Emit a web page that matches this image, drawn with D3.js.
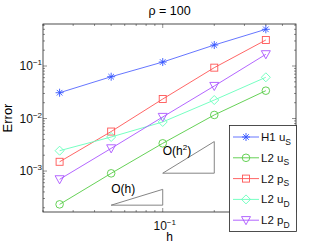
<!DOCTYPE html>
<html>
<head>
<meta charset="utf-8">
<script src="https://d3js.org/d3.v7.min.js"></script>
<style>
body { margin: 0; background: #fff; }
svg { display: block; font-family: "Liberation Sans", Arial, sans-serif; }
.tick-line { stroke: #444; stroke-width: 0.6; }
</style>
</head>
<body>
<script>

// mesh sizes and errors per norm
var hValues = [0.025, 0.05, 0.1, 0.2, 0.4];
var errH1uS = [0.031, 0.0625, 0.119, 0.251, 0.5];
var errL2uS = [0.000232, 0.000904, 0.00337, 0.0117, 0.0339];
var errL2pS = [0.0015, 0.00565, 0.0235, 0.093, 0.313];
var errL2uD = [0.00244, 0.00445, 0.0086, 0.0225, 0.061];
var errL2pD = [0.000695, 0.0027, 0.0107, 0.0416, 0.167];

var seriesNames = ["H1 u|S", "L2 u|S", "L2 p|S", "L2 u|D", "L2 p|D"];
var seriesColors = ["#5566ff", "#55cc44", "#ff5555", "#66ffbb", "#aa55ff"];
var seriesMarkers = ["star", "circle", "square", "diamond", "triangle"];

var xTickValues = [0.1];
var yTickValues = [1e-3, 1e-2, 1e-1];

// reference slopes: [h0, h1, base error, order, label]
var slopeTriangles = [
  [0.05, 0.1, 2.24e-4, 1, "O(h)"],
  [0.1, 0.2, 9.1e-4, 2, "O(h2)"]
];

var allErrors = [errH1uS, errL2uS, errL2pS, errL2uD, errL2pD];

var W = 327, H = 246;
var margin = {top: 24, right: 31, bottom: 34, left: 43};

var svg = d3.select("body").append("svg")
    .attr("width", W)
    .attr("height", H);

var x = d3.scaleLog()
    .domain([0.02, 0.6])
    .range([margin.left, W - margin.right]);

var y = d3.scaleLog()
    .domain([Math.pow(10, -3.78), Math.pow(10, -0.2)])
    .range([H - margin.bottom, margin.top]);

var x0 = margin.left, x1 = W - margin.right,
    y0 = margin.top, y1 = H - margin.bottom;

// minor + major ticks, drawn inward on all four sides
var xMinor = [];
[0.01, 0.1].forEach(function(dec) {
  for (var k = 1; k < 10; k++) {
    var v = dec * k;
    if (v >= 0.02 && v <= 0.6) xMinor.push(v);
  }
});
var yMinor = [];
[1e-4, 1e-3, 1e-2, 1e-1].forEach(function(dec) {
  for (var k = 1; k < 10; k++) {
    var v = dec * k;
    if (v >= y.domain()[0] && v <= y.domain()[1]) yMinor.push(v);
  }
});

var ticks = svg.append("g").attr("class", "ticks");

xMinor.forEach(function(v) {
  var len = Math.abs(v - 0.1) < 1e-9 ? 4 : 2;
  ticks.append("line").attr("class", "tick-line")
    .attr("x1", x(v)).attr("x2", x(v)).attr("y1", y1).attr("y2", y1 - len);
  ticks.append("line").attr("class", "tick-line")
    .attr("x1", x(v)).attr("x2", x(v)).attr("y1", y0).attr("y2", y0 + len);
});

yMinor.forEach(function(v) {
  var major = yTickValues.some(function(t) { return Math.abs(t - v) / t < 1e-6; });
  var len = major ? 4 : 2;
  ticks.append("line").attr("class", "tick-line")
    .attr("x1", x0).attr("x2", x0 + len).attr("y1", y(v)).attr("y2", y(v));
  ticks.append("line").attr("class", "tick-line")
    .attr("x1", x1).attr("x2", x1 - len).attr("y1", y(v)).attr("y2", y(v));
});

svg.append("rect")
    .attr("x", x0).attr("y", y0)
    .attr("width", x1 - x0).attr("height", y1 - y0)
    .attr("fill", "none")
    .attr("stroke", "#222")
    .attr("stroke-width", 0.8);

// tick labels as 10^k
function powLabel(sel, v) {
  var e = Math.round(Math.log10(v));
  sel.append("tspan").text("10");
  sel.append("tspan").attr("dy", -5).attr("font-size", 8).text("\u2212" + Math.abs(e));
}

yTickValues.forEach(function(v) {
  var t = svg.append("text")
    .attr("x", x0 - 1).attr("y", y(v) + 4)
    .attr("text-anchor", "end")
    .attr("font-size", 12)
    .attr("fill", "#111");
  powLabel(t, v);
});

xTickValues.forEach(function(v) {
  var t = svg.append("text")
    .attr("x", x(v) + 2).attr("y", y1 + 18)
    .attr("text-anchor", "middle")
    .attr("font-size", 12)
    .attr("fill", "#111");
  powLabel(t, v);
});

// titles
svg.append("text")
    .attr("x", (x0 + x1) / 2).attr("y", 15)
    .attr("text-anchor", "middle")
    .attr("font-size", 12.5)
    .text("\u03c1 = 100");

svg.append("text")
    .attr("x", (x0 + x1) / 2).attr("y", 241)
    .attr("text-anchor", "middle")
    .attr("font-size", 12)
    .text("h");

svg.append("text")
    .attr("transform", "translate(12," + ((y0 + y1) / 2) + ") rotate(-90)")
    .attr("text-anchor", "middle")
    .attr("font-size", 13)
    .text("Error");

// slope triangles
slopeTriangles.forEach(function(t) {
  var ha = t[0], hb = t[1], e0 = t[2], p = t[3];
  var e1 = e0 * Math.pow(hb / ha, p);
  var pts = [[x(ha), y(e0)], [x(hb), y(e1)], [x(hb), y(e0)]];
  svg.append("path")
    .attr("d", d3.line()(pts) + "Z")
    .attr("fill", "none")
    .attr("stroke", "#777")
    .attr("stroke-width", 0.9);
  var lab = svg.append("text")
    .attr("x", x(ha))
    .attr("y", y(e0) - (p == 1 ? 12 : 18))
    .attr("font-size", 12);
  if (p == 1) {
    lab.text(t[4]);
  } else {
    lab.append("tspan").text("O(h");
    lab.append("tspan").attr("dy", -5).attr("font-size", 8).text("2");
    lab.append("tspan").attr("dy", 5).text(")");
  }
});

// marker shapes
function drawMarker(g, type, cx, cy, color) {
  if (type == "star") {
    var r = 4;
    var d = "M" + (cx - r) + "," + cy + "L" + (cx + r) + "," + cy +
            "M" + cx + "," + (cy - r) + "L" + cx + "," + (cy + r) +
            "M" + (cx - r * 0.7) + "," + (cy - r * 0.7) + "L" + (cx + r * 0.7) + "," + (cy + r * 0.7) +
            "M" + (cx - r * 0.7) + "," + (cy + r * 0.7) + "L" + (cx + r * 0.7) + "," + (cy - r * 0.7);
    g.append("path").attr("d", d).attr("stroke", "#3355ff").attr("fill", "none").attr("stroke-width", 0.9);
  } else if (type == "circle") {
    g.append("circle").attr("cx", cx).attr("cy", cy).attr("r", 3.8)
      .attr("fill", "none").attr("stroke", color).attr("stroke-width", 0.9);
  } else if (type == "square") {
    g.append("rect").attr("x", cx - 3.5).attr("y", cy - 3.5).attr("width", 7).attr("height", 7)
      .attr("fill", "none").attr("stroke", color).attr("stroke-width", 0.9);
  } else if (type == "diamond") {
    var s = 4.5;
    g.append("path")
      .attr("d", "M" + cx + "," + (cy - s) + "L" + (cx + s) + "," + cy + "L" + cx + "," + (cy + s) + "L" + (cx - s) + "," + cy + "Z")
      .attr("fill", "none").attr("stroke", color).attr("stroke-width", 0.9);
  } else if (type == "triangle") {
    var s2 = 4.5;
    g.append("path")
      .attr("d", "M" + (cx - s2) + "," + (cy - s2 * 0.8) + "L" + (cx + s2) + "," + (cy - s2 * 0.8) + "L" + cx + "," + (cy + s2) + "Z")
      .attr("fill", "none").attr("stroke", color).attr("stroke-width", 0.9);
  }
}

var line = d3.line()
    .x(function(d) { return x(d[0]); })
    .y(function(d) { return y(d[1]); });

allErrors.forEach(function(errs, i) {
  var pts = hValues.map(function(h, j) { return [h, errs[j]]; });
  var g = svg.append("g").attr("class", "series");
  g.append("path")
    .attr("d", line(pts))
    .attr("fill", "none")
    .attr("stroke", seriesColors[i])
    .attr("stroke-width", 0.9);
  pts.forEach(function(p) {
    drawMarker(g, seriesMarkers[i], x(p[0]), y(p[1]), seriesColors[i]);
  });
});

// legend
var legend = svg.append("g").attr("class", "legend");
legend.append("rect")
    .attr("x", 229.5).attr("y", 125.5)
    .attr("width", 67).attr("height", 106)
    .attr("fill", "#fff")
    .attr("stroke", "#222")
    .attr("stroke-width", 0.8);

seriesNames.forEach(function(name, i) {
  var ly = 137 + i * 20.8;
  legend.append("line")
    .attr("x1", 233).attr("x2", 259).attr("y1", ly).attr("y2", ly)
    .attr("stroke", seriesColors[i]).attr("stroke-width", 0.9);
  drawMarker(legend, seriesMarkers[i], 246, ly, seriesColors[i]);
  var parts = name.split("|");
  var t = legend.append("text")
    .attr("x", 261).attr("y", ly + 4)
    .attr("font-size", 11.5)
    .attr("fill", "#111");
  t.append("tspan").text(parts[0]);
  t.append("tspan").attr("dy", 3.5).attr("font-size", 8.5).text(parts[1]);
});

</script>
</body>
</html>
